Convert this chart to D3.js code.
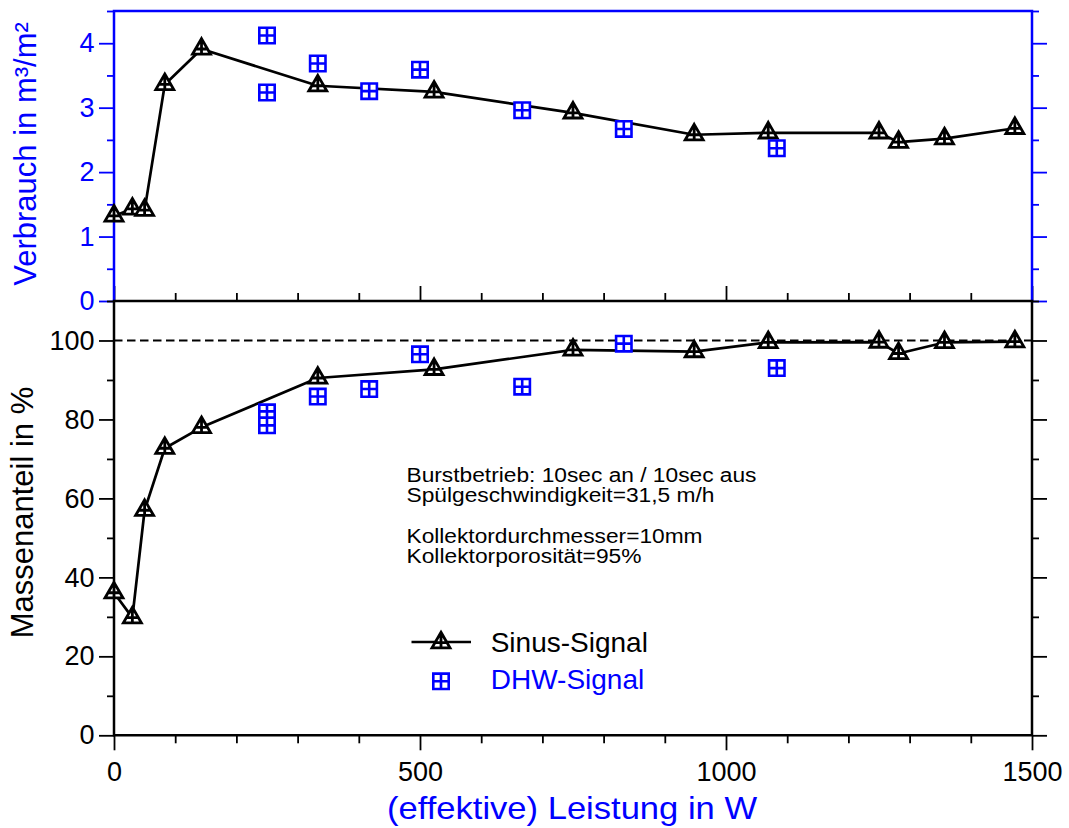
<!DOCTYPE html>
<html><head><meta charset="utf-8">
<script src="https://cdn.jsdelivr.net/npm/d3@7"></script>
<style>
body{margin:0;background:#fff}
text{font-family:Arial,"Liberation Sans",Helvetica,sans-serif}
</style>
</head><body>
<svg id="c" width="1069" height="828" xmlns="http://www.w3.org/2000/svg"></svg>
<script>
// ---------- data ----------
const sinusX = [0, 30, 50, 83, 143, 333, 523, 750, 948, 1069, 1250, 1282, 1357, 1472];
const sinusVerbrauch = [1.32, 1.43, 1.41, 3.36, 3.91, 3.34, 3.245, 2.92, 2.58, 2.61, 2.61, 2.465, 2.52, 2.68];
const sinusMasse = [36.1, 29.8, 57.0, 72.7, 78.0, 90.5, 92.7, 97.6, 97.2, 99.5, 99.6, 96.7, 99.5, 99.7];
const dhwVerbrauchX = [250, 250, 333, 417, 500, 667, 833, 1083];
const dhwVerbrauch = [4.12, 3.235, 3.685, 3.256, 3.59, 2.96, 2.67, 2.37];
const dhwMasseX = [250, 250, 250, 333, 417, 500, 667, 833, 1083];
const dhwMasse = [81.8, 80.1, 78.5, 85.8, 87.7, 96.5, 88.3, 99.2, 93.0];
const xTickLabels = [0, 500, 1000, 1500];
const verbrauchTickLabels = [0, 1, 2, 3, 4];
const masseTickLabels = [0, 20, 40, 60, 80, 100];
const referenceLine = 100;
const seriesNames = ["Sinus-Signal", "DHW-Signal"];
const annotationLines = ["Burstbetrieb: 10sec an / 10sec aus", "Spülgeschwindigkeit=31,5 m/h",
                         "Kollektordurchmesser=10mm", "Kollektorporosität=95%"];
const xTitle = "(effektive) Leistung in W";
const yTitleTop = "Verbrauch in m³/m²";
const yTitleBottom = "Massenanteil in %";

// ---------- drawing ----------
const BLUE = "#0000ff", BLACK = "#000";
const svg = d3.select("#c");
const x = d3.scaleLinear().domain([0, 1500]).range([114, 1032]);
const yT = d3.scaleLinear().domain([0, 4.5]).range([301, 11]);
const yB = d3.scaleLinear().domain([0, 110]).range([735.3, 301]);

function styleAxis(g, color) {
  g.select(".domain").remove();
  g.selectAll(".tick line").attr("stroke", color).attr("stroke-width", 1.8);
  g.selectAll(".tick text").attr("fill", color).attr("font-size", 27)
    .attr("font-family", "Arial, 'Liberation Sans', Helvetica, sans-serif");
}
const noLabel = () => "";

// top panel left axis
svg.append("g").attr("transform", `translate(${x(0)},0)`)
  .call(d3.axisLeft(yT).tickValues(verbrauchTickLabels).tickSize(15).tickPadding(4.5).tickFormat(d3.format("d")))
  .call(g => styleAxis(g, BLUE));
svg.append("g").attr("transform", `translate(${x(0)},0)`)
  .call(d3.axisLeft(yT).tickValues(verbrauchTickLabels.map(v => v + 0.5)).tickSize(7).tickFormat(noLabel))
  .call(g => styleAxis(g, BLUE));
// top panel right axis
svg.append("g").attr("transform", `translate(${x(1500)},0)`)
  .call(d3.axisRight(yT).tickValues(verbrauchTickLabels).tickSize(15).tickFormat(noLabel))
  .call(g => styleAxis(g, BLUE));
svg.append("g").attr("transform", `translate(${x(1500)},0)`)
  .call(d3.axisRight(yT).tickValues(verbrauchTickLabels.map(v => v + 0.5)).tickSize(7).tickFormat(noLabel))
  .call(g => styleAxis(g, BLUE));
// x ticks pointing up into top panel
const xMinor = d3.range(100, 1500, 100).filter(v => !xTickLabels.includes(v));
svg.append("g").attr("transform", `translate(0,${yT(0)})`)
  .call(d3.axisTop(x).tickValues(xTickLabels).tickSize(15).tickFormat(noLabel))
  .call(g => styleAxis(g, BLACK));
svg.append("g").attr("transform", `translate(0,${yT(0)})`)
  .call(d3.axisTop(x).tickValues(xMinor).tickSize(8).tickFormat(noLabel))
  .call(g => styleAxis(g, BLACK));

// bottom panel axes
const masseMinor = masseTickLabels.map(v => v + 10);
svg.append("g").attr("transform", `translate(${x(0)},0)`)
  .call(d3.axisLeft(yB).tickValues(masseTickLabels).tickSize(15).tickPadding(4.5).tickFormat(d3.format("d")))
  .call(g => styleAxis(g, BLACK));
svg.append("g").attr("transform", `translate(${x(0)},0)`)
  .call(d3.axisLeft(yB).tickValues(masseMinor).tickSize(7).tickFormat(noLabel))
  .call(g => styleAxis(g, BLACK));
svg.append("g").attr("transform", `translate(${x(1500)},0)`)
  .call(d3.axisRight(yB).tickValues(masseTickLabels).tickSize(15).tickFormat(noLabel))
  .call(g => styleAxis(g, BLACK));
svg.append("g").attr("transform", `translate(${x(1500)},0)`)
  .call(d3.axisRight(yB).tickValues(masseMinor).tickSize(7).tickFormat(noLabel))
  .call(g => styleAxis(g, BLACK));
svg.append("g").attr("transform", `translate(0,${yB(0)})`)
  .call(d3.axisBottom(x).tickValues(xTickLabels).tickSize(15).tickPadding(12).tickFormat(d3.format("d")))
  .call(g => styleAxis(g, BLACK));
svg.append("g").attr("transform", `translate(0,${yB(0)})`)
  .call(d3.axisBottom(x).tickValues(xMinor).tickSize(8).tickFormat(noLabel))
  .call(g => styleAxis(g, BLACK));

// frames
svg.append("path")
  .attr("d", `M${x(0)},${yT(0)}V${yT(4.5)}H${x(1500)}V${yT(0)}`)
  .attr("fill", "none").attr("stroke", BLUE).attr("stroke-width", 2.5);
svg.append("path")
  .attr("d", `M${x(0)},${yB(110)}V${yB(0)}H${x(1500)}V${yB(110)}Z`)
  .attr("fill", "none").attr("stroke", BLACK).attr("stroke-width", 2.5).attr("stroke-linecap", "square");

// reference line at 100 %
svg.append("line")
  .attr("x1", x(0)).attr("x2", x(1500)).attr("y1", yB(referenceLine)).attr("y2", yB(referenceLine))
  .attr("stroke", BLACK).attr("stroke-width", 1.8).attr("stroke-dasharray", "8.5,4.5");

// markers
const TRI = "M0,-10.4L9,5.2L-9,5.2Z M0,-10.4V5.2 M-6,0H6";
const SQR = "M-7.7,-7.7H7.7V7.7H-7.7Z M0,-7.7V7.7 M-7.7,0H7.7";
function drawTriangles(data, xs, ys) {
  svg.append("g").selectAll("path").data(data).join("path")
    .attr("transform", d => `translate(${xs(d[0])},${ys(d[1])})`)
    .attr("d", TRI).attr("fill", "#fff").attr("stroke", BLACK).attr("stroke-width", 2.8)
    .attr("stroke-linejoin", "miter");
}
function drawSquares(data, xs, ys) {
  svg.append("g").selectAll("path").data(data).join("path")
    .attr("transform", d => `translate(${xs(d[0])},${ys(d[1])})`)
    .attr("d", SQR).attr("fill", "#fff").attr("stroke", BLUE).attr("stroke-width", 2.6);
}
const line = (ys) => d3.line().x(d => x(d[0])).y(d => ys(d[1]));

const sinusTop = d3.zip(sinusX, sinusVerbrauch);
const sinusBot = d3.zip(sinusX, sinusMasse);
svg.append("path").datum(sinusTop).attr("d", line(yT)).attr("fill", "none")
  .attr("stroke", BLACK).attr("stroke-width", 2.7).attr("stroke-linejoin", "round");
svg.append("path").datum(sinusBot).attr("d", line(yB)).attr("fill", "none")
  .attr("stroke", BLACK).attr("stroke-width", 2.7).attr("stroke-linejoin", "round");
drawTriangles(sinusTop, x, yT);
drawTriangles(sinusBot, x, yB);
drawSquares(d3.zip(dhwVerbrauchX, dhwVerbrauch), x, yT);
drawSquares(d3.zip(dhwMasseX, dhwMasse), x, yB);

// legend
const lg = svg.append("g");
lg.append("line").attr("x1", 411.5).attr("x2", 471).attr("y1", 642).attr("y2", 642)
  .attr("stroke", BLACK).attr("stroke-width", 2.7);
lg.append("path").attr("transform", "translate(441,642.7)").attr("d", TRI)
  .attr("fill", "#fff").attr("stroke", BLACK).attr("stroke-width", 2.8);
lg.append("text").attr("x", 490.7).attr("y", 651.7).attr("font-size", 28).attr("fill", BLACK).text(seriesNames[0]);
lg.append("path").attr("transform", "translate(441,681.3)").attr("d", SQR)
  .attr("fill", "#fff").attr("stroke", BLUE).attr("stroke-width", 2.6);
lg.append("text").attr("x", 490.7).attr("y", 689.3).attr("font-size", 28).attr("fill", BLUE).text(seriesNames[1]);

// annotation
const annY = [481.7, 501.7, 543.0, 563.0];
const annW = [350, 308, 296, 235];
annotationLines.forEach((t, i) => {
  svg.append("text").attr("x", 406.5).attr("y", annY[i]).attr("font-size", 20)
    .attr("textLength", annW[i]).attr("lengthAdjust", "spacingAndGlyphs")
    .attr("fill", BLACK).text(t);
});

// titles
svg.append("text").attr("x", 572).attr("y", 819).attr("text-anchor", "middle")
  .attr("font-size", 32).attr("fill", BLUE)
  .attr("textLength", 370).attr("lengthAdjust", "spacingAndGlyphs").text(xTitle);
svg.append("text").attr("transform", "translate(36,154) rotate(-90)").attr("text-anchor", "middle")
  .attr("font-size", 31).attr("fill", BLUE).text(yTitleTop);
svg.append("text").attr("transform", "translate(33,512.5) rotate(-90)").attr("text-anchor", "middle")
  .attr("font-size", 31).attr("fill", BLACK).text(yTitleBottom);
</script>
</body></html>
